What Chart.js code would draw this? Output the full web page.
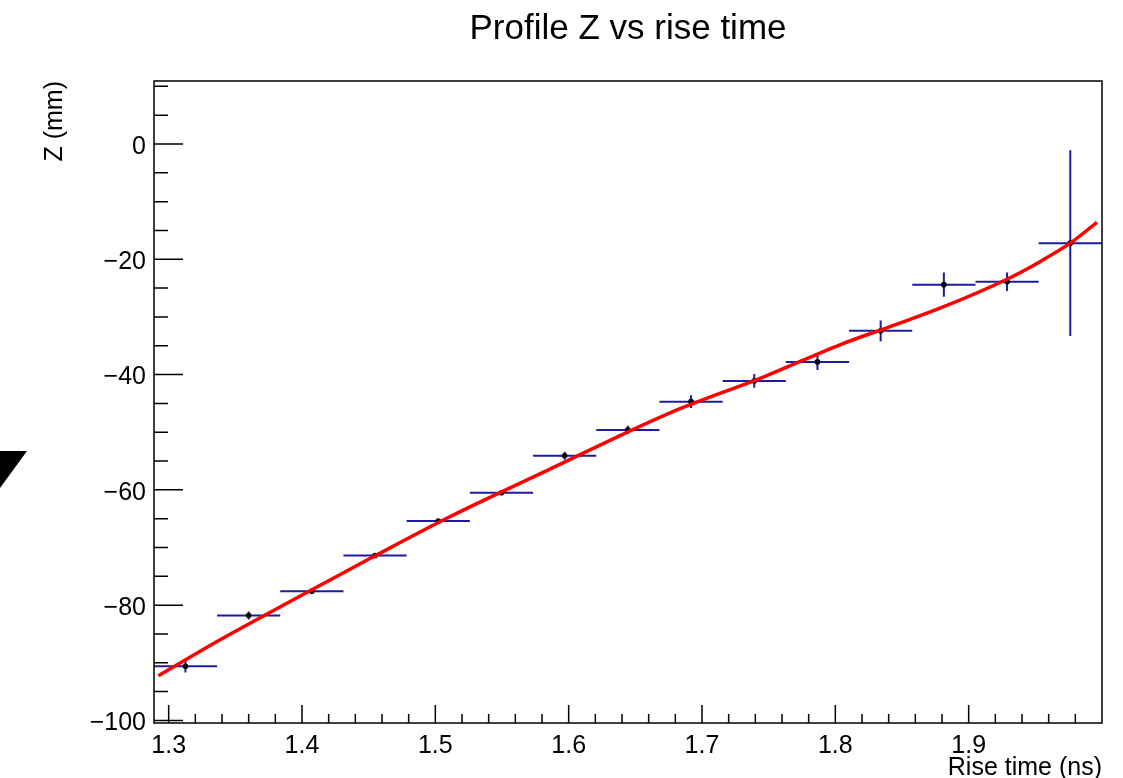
<!DOCTYPE html>
<html>
<head>
<meta charset="utf-8">
<script src="https://cdn.jsdelivr.net/npm/chart.js@4"></script>
<style>
  html, body { margin: 0; padding: 0; background: #fff; }
  #wrap { width: 1123px; height: 778px; position: relative; }
</style>
</head>
<body>
<div id="wrap"><canvas id="myChart"></canvas></div>
<script>
// profile bins (centres), mean Z and error on the mean
const binCenters = [1.3126, 1.3600, 1.4074, 1.4548, 1.5022, 1.5496, 1.5970, 1.6444, 1.6918, 1.7392, 1.7866, 1.8340, 1.8814, 1.9288, 1.9762];
const binHalfWidth = 0.0237;
const zValues = [-90.6, -81.8, -77.6, -71.4, -65.4, -60.5, -54.1, -49.6, -44.7, -41.1, -37.8, -32.4, -24.4, -23.9, -17.2];
const zErrors = [1.1, 0.7, 0.4, 0.3, 0.3, 0.3, 0.7, 0.7, 1.1, 1.2, 1.4, 1.8, 2.1, 1.6, 16.1];

// fit curve
const fitX = [1.2923, 1.3373, 1.3935, 1.4513, 1.5112, 1.5824, 1.6761, 1.7473, 1.8035, 1.8410, 1.8785, 1.9287, 1.9535, 1.9767, 1.9962];
const fitY = [-92.25, -86.18, -79.07, -71.88, -64.63, -56.80, -46.64, -40.30, -34.83, -31.68, -28.49, -23.46, -20.41, -17.12, -13.58];

// axis ticks
const xTickLabels = [1.3, 1.4, 1.5, 1.6, 1.7, 1.8, 1.9];
const xMinorTicks = [1.32, 1.34, 1.36, 1.38, 1.42, 1.44, 1.46, 1.48, 1.52, 1.54, 1.56, 1.58, 1.62, 1.64, 1.66, 1.68, 1.72, 1.74, 1.76, 1.78, 1.82, 1.84, 1.86, 1.88, 1.92, 1.94, 1.96, 1.98];
const yTickLabels = [0, -20, -40, -60, -80, -100];
const yMinorTicks = [10, 5, -5, -10, -15, -25, -30, -35, -45, -50, -55, -65, -70, -75, -85, -90, -95];

const FONT = "'Liberation Sans', Arial, Helvetica, sans-serif";
const ERR_COLOR = "#1c1c9c";

const rootStyle = {
  id: "rootStyle",
  beforeDatasetsDraw(chart) {
    const ctx = chart.ctx;
    const xs = chart.scales.x, ys = chart.scales.y;
    ctx.save();
    ctx.strokeStyle = ERR_COLOR;
    ctx.lineWidth = 2;
    binCenters.forEach((c, i) => {
      const py = ys.getPixelForValue(zValues[i]);
      ctx.beginPath();
      ctx.moveTo(xs.getPixelForValue(c - binHalfWidth), py);
      ctx.lineTo(xs.getPixelForValue(c + binHalfWidth), py);
      const px = xs.getPixelForValue(c);
      ctx.moveTo(px, ys.getPixelForValue(zValues[i] + zErrors[i]));
      ctx.lineTo(px, ys.getPixelForValue(zValues[i] - zErrors[i]));
      ctx.stroke();
    });
    ctx.restore();
  },
  afterDraw(chart) {
    const ctx = chart.ctx;
    const a = chart.chartArea;
    const xs = chart.scales.x, ys = chart.scales.y;
    ctx.save();
    ctx.strokeStyle = "#000";
    ctx.lineWidth = 1.5;
    ctx.strokeRect(a.left, a.top, a.right - a.left, a.bottom - a.top);
    ctx.beginPath();
    xTickLabels.forEach(v => {
      const px = xs.getPixelForValue(v);
      ctx.moveTo(px, a.bottom); ctx.lineTo(px, a.bottom - 18);
    });
    xMinorTicks.forEach(v => {
      const px = xs.getPixelForValue(v);
      ctx.moveTo(px, a.bottom); ctx.lineTo(px, a.bottom - 9);
    });
    yTickLabels.forEach(v => {
      const py = ys.getPixelForValue(v);
      ctx.moveTo(a.left, py); ctx.lineTo(a.left + 29, py);
    });
    yMinorTicks.forEach(v => {
      const py = ys.getPixelForValue(v);
      ctx.moveTo(a.left, py); ctx.lineTo(a.left + 14, py);
    });
    ctx.stroke();
    // stray black wedge on the left edge
    ctx.fillStyle = "#000";
    ctx.beginPath();
    ctx.moveTo(0, 451); ctx.lineTo(27, 451); ctx.lineTo(0, 488);
    ctx.closePath();
    ctx.fill();
    ctx.restore();
  }
};

const ctx = document.getElementById("myChart");

const data = {
  datasets: [
    {
      type: "line",
      label: "fit",
      data: fitX.map((x, i) => ({ x: x, y: fitY[i] })),
      borderColor: "#ff0000",
      borderWidth: 3.5,
      pointRadius: 0,
      fill: false,
      cubicInterpolationMode: "monotone",
      order: 1,
    },
    {
      type: "scatter",
      label: "profile",
      data: binCenters.map((x, i) => ({ x: x, y: zValues[i] })),
      backgroundColor: "#000",
      pointRadius: 2.8,
      borderWidth: 0,
      order: 2,
    },
  ],
};

const config = {
  type: "scatter",
  data: data,
  options: {
    responsive: true,
    maintainAspectRatio: false,
    animation: false,
    layout: { padding: { left: 0, right: 21, top: 0, bottom: 0 } },
    plugins: {
      legend: { display: false },
      tooltip: { enabled: false },
      title: {
        display: true,
        text: "Profile Z vs rise time",
        fullSize: false,
        color: "#000",
        font: { family: FONT, size: 35, weight: "normal", lineHeight: 1.2 },
        padding: { top: 8, bottom: 31 },
      },
    },
    scales: {
      x: {
        type: "linear",
        position: "bottom",
        min: 1.289,
        max: 2.0,
        grid: { display: false, drawTicks: false },
        border: { display: false },
        afterBuildTicks: (axis) => { axis.ticks = xTickLabels.map(v => ({ value: v })); },
        afterFit: (axis) => { axis.height = 55; },
        ticks: {
          autoSkip: false,
          maxRotation: 0,
          padding: 8,
          color: "#000",
          font: { family: FONT, size: 25 },
          callback: (v) => Number(v).toFixed(1),
        },
        title: {
          display: true,
          text: "Rise time (ns)",
          align: "end",
          color: "#000",
          font: { family: FONT, size: 25, lineHeight: 1 },
          padding: { top: 0, bottom: -3 },
        },
      },
      y: {
        type: "linear",
        min: -100.45,
        max: 10.93,
        grid: { display: false, drawTicks: false },
        border: { display: false },
        afterBuildTicks: (axis) => { axis.ticks = yTickLabels.map(v => ({ value: v })); },
        afterFit: (axis) => { axis.width = 154; },
        ticks: {
          autoSkip: false,
          padding: 8,
          labelOffset: 3,
          color: "#000",
          font: { family: FONT, size: 25 },
          callback: (v) => (v < 0 ? "\u2212" + Math.abs(v) : String(v)),
        },
        title: {
          display: true,
          text: "Z (mm)",
          align: "end",
          color: "#000",
          font: { family: FONT, size: 25, lineHeight: 1 },
          padding: { top: 43, bottom: 0 },
        },
      },
    },
  },
  plugins: [rootStyle],
};
new Chart(ctx, config);
</script>
</body>
</html>
